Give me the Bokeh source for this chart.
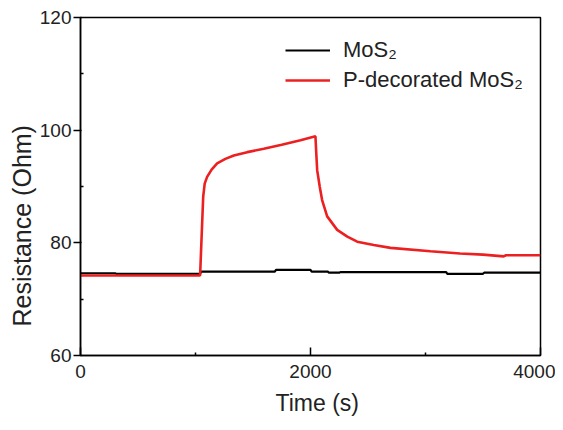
from bokeh.plotting import figure
from bokeh.models import Range1d, Legend, LegendItem, FixedTicker, Title
from bokeh.embed import file_html
from bokeh.resources import INLINE

# Data
time_mos2 = [0, 300, 310, 1040, 1050, 1690, 1700, 2000, 2010, 2150, 2160, 2250, 2260,
             3180, 3190, 3500, 3510, 4000]
res_mos2 = [74.6, 74.6, 74.5, 74.5, 74.9, 74.9, 75.2, 75.2, 74.9, 74.9, 74.7, 74.7, 74.8,
            74.8, 74.5, 74.5, 74.7, 74.7]

time_p = [0, 1040, 1055, 1067, 1080, 1101, 1140, 1188, 1260, 1333, 1450, 1594, 1750,
          1913, 2043, 2050, 2058, 2080, 2101, 2145, 2232, 2320, 2406, 2550, 2696,
          3043, 3300, 3500, 3680, 3700, 4000]
res_p = [74.2, 74.2, 82.0, 88.2, 90.5, 91.7, 93.0, 94.1, 94.9, 95.5, 96.1, 96.7, 97.4,
         98.2, 98.9, 96.0, 92.9, 90.0, 87.6, 84.7, 82.3, 81.1, 80.2, 79.6, 79.1,
         78.5, 78.1, 77.9, 77.6, 77.8, 77.8]

x_ticks = [0, 2000, 4000]
x_minor = [1000, 3000]
y_ticks = [60, 80, 100, 120]
y_minor = [70, 90, 110]
x_title = "Time (s)"
y_title = "Resistance (Ohm)"

p = figure(width=555, height=422, output_backend="svg", toolbar_location=None,
           x_range=Range1d(0, 4000), y_range=Range1d(60, 120),
           min_border_left=80, min_border_top=17, min_border_right=15, min_border_bottom=66)
p.xgrid.visible = False
p.ygrid.visible = False
p.outline_line_color = "black"
p.outline_line_width = 1.5
p.background_fill_color = "white"
p.border_fill_color = "white"

FONT = "Liberation Sans"
for ax in (p.xaxis[0], p.yaxis[0]):
    ax.axis_line_color = "black"
    ax.axis_line_width = 1.5
    ax.minor_tick_in = 3
    ax.minor_tick_out = 0
    ax.major_tick_line_width = 1.5
    ax.minor_tick_line_width = 1.5
    ax.major_label_text_font = FONT
    ax.major_label_text_font_size = "19px"
    ax.major_label_text_color = "#222222"

p.xaxis[0].major_tick_in = 8
p.xaxis[0].major_tick_out = 0
p.yaxis[0].major_tick_in = 1
p.yaxis[0].major_tick_out = 7

p.xaxis[0].ticker = FixedTicker(ticks=x_ticks, minor_ticks=x_minor)
p.yaxis[0].ticker = FixedTicker(ticks=y_ticks, minor_ticks=y_minor)
p.xaxis.major_label_standoff = 9
p.yaxis.major_label_standoff = 2

# axis titles as side titles, so they can be shifted along the axis
p.add_layout(Title(text=y_title, align="left", offset=29, standoff=2,
                   text_font=FONT, text_font_size="25px", text_font_style="normal",
                   text_color="#222222"), "left")
p.add_layout(Title(text=x_title, align="left", offset=195, standoff=14,
                   text_font=FONT, text_font_size="23px", text_font_style="normal",
                   text_color="#222222"), "below")

r1 = p.line(time_mos2, res_mos2, line_color="black", line_width=2.2)
r2 = p.line(time_p, res_p, line_color="#ec2020", line_width=2.6)

legend = Legend(items=[LegendItem(label="MoS\u2082", renderers=[r1]),
                       LegendItem(label="P-decorated MoS\u2082", renderers=[r2])],
                location=(205, 262), border_line_alpha=0, background_fill_alpha=0,
                glyph_width=45, glyph_height=26, label_standoff=13, spacing=4,
                padding=0, margin=0,
                label_text_font=FONT, label_text_font_size="22px",
                label_text_color="#222222")
p.add_layout(legend)

open("out.html", "w").write(file_html(p, INLINE))
